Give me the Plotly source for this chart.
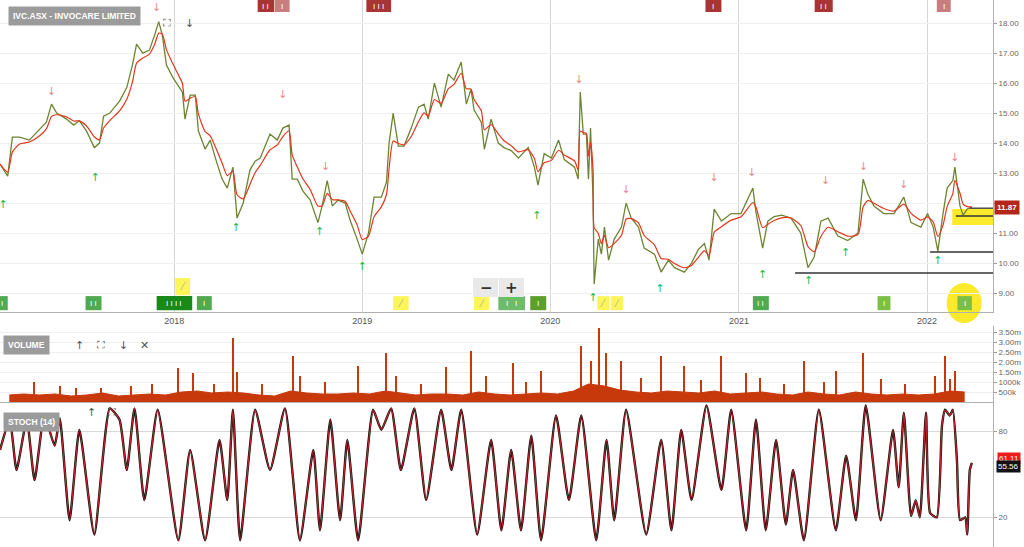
import plotly.graph_objects as go
import pandas as pd

# ---------------- DATA ----------------
price_dates = [
    "2017-01-28","2017-02-12","2017-02-21","2017-03-07","2017-03-26","2017-04-15","2017-04-28","2017-05-08",
    "2017-05-18","2017-06-06","2017-06-20","2017-07-01","2017-07-15","2017-07-30","2017-08-09","2017-08-17",
    "2017-08-29","2017-09-17","2017-10-01","2017-10-12","2017-10-20","2017-11-01","2017-11-14","2017-11-24",
    "2017-12-02","2017-12-09","2017-12-17","2017-12-29",
    "2018-01-09","2018-01-17","2018-01-22","2018-02-01","2018-02-11","2018-02-17","2018-03-02","2018-03-12",
    "2018-03-22","2018-04-04","2018-04-14","2018-04-25","2018-05-03","2018-05-15","2018-05-28","2018-06-07",
    "2018-06-17","2018-07-06","2018-07-20","2018-07-31","2018-08-12","2018-08-18","2018-08-28","2018-09-08",
    "2018-09-22","2018-10-07","2018-10-15","2018-10-25","2018-11-04","2018-11-15","2018-11-29","2018-12-08",
    "2018-12-22",
    "2019-01-01","2019-01-13","2019-01-24","2019-02-07","2019-02-17","2019-02-22","2019-03-02","2019-03-12",
    "2019-03-23","2019-04-06","2019-04-20","2019-05-01","2019-05-09","2019-05-21","2019-06-03","2019-06-17",
    "2019-06-28","2019-07-12","2019-07-22","2019-07-31","2019-08-06","2019-08-20","2019-08-26","2019-09-08",
    "2019-09-22","2019-10-03","2019-10-17","2019-10-31","2019-11-19","2019-12-01","2019-12-08","2019-12-20",
    "2020-01-03","2020-01-17","2020-01-28","2020-02-17","2020-02-24","2020-02-28","2020-03-05","2020-03-11",
    "2020-03-15","2020-03-19","2020-03-24","2020-03-26","2020-04-03","2020-04-09","2020-04-15","2020-04-23",
    "2020-05-04","2020-05-18","2020-05-27","2020-06-06","2020-06-20","2020-07-01","2020-07-21","2020-08-03",
    "2020-08-17","2020-08-29","2020-09-17","2020-10-01","2020-10-14","2020-10-26","2020-11-04","2020-11-14",
    "2020-11-28","2020-12-17",
    "2021-01-05","2021-01-28","2021-02-03","2021-02-16","2021-02-26","2021-03-10","2021-03-25","2021-04-12",
    "2021-05-01","2021-05-15","2021-05-27","2021-06-09","2021-06-23","2021-07-12","2021-07-31","2021-08-20",
    "2021-08-30","2021-09-08","2021-09-20","2021-10-09","2021-10-29","2021-11-17","2021-12-01","2021-12-20",
    "2022-01-02","2022-01-13","2022-01-22","2022-02-01","2022-02-09","2022-02-20","2022-02-24","2022-03-06",
    "2022-03-12","2022-03-20","2022-03-29",
]
price_close = [
    13.3, 12.9, 14.2, 14.2, 14.1, 14.45, 14.7, 15.3,
    15.0, 14.8, 14.6, 14.75, 14.4, 13.85, 14.0, 14.9,
    15.0, 15.4, 15.85, 16.6, 17.3, 17.0, 17.1, 17.6,
    18.05, 17.6, 16.6, 16.2,
    15.9, 15.7, 14.8, 15.6, 15.6, 14.4, 13.8, 14.1,
    13.5, 12.8, 12.5, 13.2, 11.5, 12.0, 13.1, 13.4,
    13.5, 14.3, 14.1, 14.5, 14.6, 12.8, 12.8, 12.4,
    12.1, 11.35, 11.9, 12.75, 11.9, 12.1, 12.0, 11.45,
    10.8,
    10.3, 11.0, 12.2, 12.2, 12.7, 14.0, 15.0, 13.9,
    13.9, 14.5, 15.2, 15.3, 14.8, 16.0, 15.2, 16.3,
    16.1, 16.7, 15.3, 15.8, 15.1, 14.7, 13.8, 14.8,
    14.0, 13.85, 13.75, 13.5, 13.85, 13.2, 12.6, 13.65,
    13.5, 14.1, 13.45, 13.2, 12.8, 15.7, 14.3, 14.3,
    12.8, 14.5, 12.1, 9.3, 10.8, 10.3, 11.2, 10.1,
    10.8, 11.2, 12.0, 11.5, 11.2, 10.5, 10.3, 9.7,
    10.1, 9.85, 9.7, 10.0, 10.45, 10.65, 10.1, 11.8,
    11.4, 11.65,
    11.65, 12.5, 11.7, 10.5, 11.4, 11.55, 11.6, 11.5,
    11.0, 9.85, 10.2, 11.4, 11.5, 10.9, 10.75, 11.0,
    12.8, 12.3, 11.9, 11.65, 11.65, 12.2, 11.35, 11.2,
    11.65, 11.2, 10.4, 11.65, 12.5, 12.75, 13.2, 11.9,
    11.6, 11.8, 11.87,
]

# monthly base volume (millions of shares)
volume_month_start = "2017-02-01"
volume_base = [
    0.35, 0.40, 0.35, 0.40, 0.30, 0.35, 0.45, 0.30, 0.35, 0.40, 0.35,
    0.50, 0.55, 0.45, 0.50, 0.45, 0.35, 0.30, 0.55, 0.45, 0.40, 0.40, 0.45,
    0.40, 0.55, 0.45, 0.35, 0.40, 0.40, 0.35, 0.50, 0.40, 0.35, 0.40, 0.45,
    0.40, 0.55, 0.90, 0.80, 0.60, 0.50, 0.45, 0.55, 0.50, 0.45, 0.55, 0.40,
    0.45, 0.50, 0.40, 0.35, 0.50, 0.40, 0.35, 0.50, 0.40, 0.35, 0.40, 0.35,
    0.40, 0.55, 0.50,
]
volume_spike_dates = [
    "2017-04-05","2017-05-24","2017-06-25","2017-08-13","2017-10-10","2017-11-20","2018-01-09","2018-02-07",
    "2018-03-20","2018-04-25","2018-05-03","2018-06-20","2018-08-20","2018-09-02","2018-10-20","2018-12-24",
    "2019-02-17","2019-03-08","2019-04-25","2019-06-13","2019-07-31","2019-08-29","2019-10-21","2019-11-15",
    "2019-12-14","2020-03-01","2020-03-21","2020-04-05","2020-04-19","2020-05-18","2020-06-25","2020-08-03",
    "2020-09-17","2020-10-20","2020-11-28","2021-01-15","2021-02-12","2021-03-30","2021-05-07","2021-06-15",
    "2021-07-08","2021-08-30","2021-10-03","2021-11-20","2022-01-16","2022-02-05","2022-02-14","2022-02-24",
]
volume_spike_vals = [
    1.0, 0.8, 0.7, 0.7, 0.8, 0.9, 1.7, 1.45,
    0.9, 3.2, 1.5, 0.9, 2.3, 1.3, 1.0, 1.8,
    2.45, 1.3, 0.9, 1.75, 2.55, 1.3, 1.95, 1.0,
    1.55, 2.8, 2.05, 3.7, 2.45, 2.05, 1.2, 2.3,
    1.8, 1.1, 2.3, 1.45, 1.2, 0.9, 2.05, 1.0,
    1.55, 2.45, 1.15, 0.9, 1.3, 2.3, 1.15, 1.55,
]
volume_ticks = [0.5, 1.0, 1.5, 2.0, 2.5, 3.0, 3.5]
volume_tick_labels = ["500k", "1000k", "1.50m", "2.00m", "2.50m", "3.00m", "3.50m"]

stoch_dates = [
    "2017-01-28","2017-02-16","2017-03-01","2017-03-21","2017-04-05","2017-04-24","2017-05-14","2017-05-24",
    "2017-06-12","2017-07-01","2017-07-30","2017-08-29","2017-09-17","2017-10-01","2017-10-16","2017-11-04",
    "2017-11-30","2018-01-09","2018-02-01","2018-03-02","2018-03-30","2018-04-14","2018-04-25","2018-05-09",
    "2018-06-07","2018-07-06","2018-08-04","2018-09-02","2018-09-28","2018-10-11","2018-10-31","2018-11-19",
    "2018-12-03","2018-12-24","2019-01-22","2019-02-07","2019-02-26","2019-03-17","2019-04-12","2019-05-05",
    "2019-06-03","2019-06-23","2019-07-12","2019-08-12","2019-09-08","2019-09-28","2019-10-17","2019-11-05",
    "2019-11-25","2019-12-14","2020-01-12","2020-02-06","2020-03-01","2020-03-30","2020-04-19","2020-05-04",
    "2020-05-27","2020-07-05","2020-08-03","2020-08-23","2020-09-11","2020-10-01","2020-10-30","2020-11-28",
    "2020-12-17","2021-01-15","2021-02-03","2021-02-22","2021-03-14","2021-04-02","2021-04-16","2021-05-07",
    "2021-06-05","2021-07-08","2021-07-28","2021-08-16","2021-09-04","2021-10-03","2021-10-27","2021-11-07",
    "2021-11-17","2021-12-01","2021-12-10","2021-12-18","2021-12-30","2022-01-07","2022-01-20","2022-01-30",
    "2022-02-05","2022-02-14","2022-02-20","2022-02-28","2022-03-06","2022-03-16","2022-03-20","2022-03-25",
    "2022-03-29",
]
stoch_k = [
    67, 88, 53, 88, 46, 91, 70, 89,
    18, 81, 8, 96, 88, 53, 96, 32,
    95, 4, 67, 4, 74, 32, 95, 4,
    95, 53, 96, 4, 67, 11, 88, 18,
    74, 4, 95, 81, 96, 53, 96, 32,
    95, 53, 95, 8, 74, 11, 67, 11,
    77, 4, 91, 32, 91, 4, 74, 18,
    95, 8, 74, 11, 81, 32, 98, 39,
    95, 11, 88, 11, 74, 15, 53, 4,
    95, 11, 63, 18, 98, 18, 81, 41,
    93, 21, 32, 20, 93, 23, 20, 84,
    95, 91, 95, 60, 18, 20, 8, 53,
    58,
]
stoch_last_k = 55.56
stoch_last_d = 61.11
last_price = 11.87

sell_dates = ["2017-05-08","2017-11-28","2018-07-31","2018-10-22","2020-02-26","2020-05-27",
              "2020-11-14","2021-01-26","2021-06-18","2021-08-31","2021-11-17","2022-02-24"]
sell_levels = [15.7, 18.5, 15.6, 13.2, 16.1, 12.43, 12.83, 13.0, 12.73, 13.2, 12.6, 13.5]
buy_dates = ["2017-02-03","2017-08-01","2018-05-01","2018-10-10","2019-01-01","2019-12-06",
             "2020-03-24","2020-08-01","2021-02-16","2021-05-16","2021-07-27","2022-01-22"]
buy_levels = [11.93, 12.83, 11.17, 11.03, 9.87, 11.57, 8.83, 9.13, 9.6, 9.4, 10.33, 10.07]

top_box_start = ["2018-06-12","2018-07-15","2019-01-09","2020-10-28","2021-05-28","2022-01-20"]
top_box_end = ["2018-07-14","2018-08-13","2019-02-26","2020-11-28","2021-07-02","2022-02-16"]
top_box_kind = ["strong","weak","strong","strong","strong","weak"]
top_box_text = ["I I","I","I I I","I","I I","I"]

bottom_box_start = ["2017-01-20","2017-07-13","2017-11-28","2018-02-14","2019-09-22","2019-11-23",
                    "2021-01-28","2021-09-27","2022-03-01"]
bottom_box_end = ["2017-02-12","2017-08-13","2018-02-05","2018-03-15","2019-11-13","2019-12-24",
                  "2021-02-28","2021-10-22","2022-03-29"]
bottom_box_kind = ["mid","mid","dark","mid","light","olive","mid","lime","lime"]
bottom_box_text = ["I","I I","I I I I","I","I   I","I","I I","I","I"]

note_start = ["2018-01-03","2019-03-02","2019-08-06","2020-04-01","2020-04-27"]
note_end = ["2018-02-01","2019-04-01","2019-09-04","2020-04-25","2020-05-21"]
note_row = ["upper","lower","lower","lower","lower"]

support_start = ["2022-03-25","2022-02-26","2022-01-07","2021-04-20"]
support_level = [11.83, 11.57, 10.37, 9.67]

x_start, x_end = "2017-01-28", "2022-05-09"
years = ["2018-01-01","2019-01-01","2020-01-01","2021-01-01","2022-01-01"]

# ---------------- FIGURE ----------------
FONT = "Liberation Sans, Arial, sans-serif"
PX_W, PX_H = 1024, 547
def px_x(p): return p / PX_W
def px_y(p): return 1 - p / PX_H

fig = go.Figure()

# price line (candles approximated) and moving average
fig.add_trace(go.Scatter(x=price_dates, y=price_close, mode="lines",
                         line=dict(color="#6d8433", width=1.3), xaxis="x", yaxis="y", hoverinfo="skip"))
ma = pd.Series(price_close).ewm(span=3).mean()
fig.add_trace(go.Scatter(x=price_dates, y=ma, mode="lines",
                         line=dict(color="#e5361c", width=1.2, shape="spline", smoothing=0.6),
                         xaxis="x", yaxis="y", hoverinfo="skip"))

# signal arrows
fig.add_trace(go.Scatter(x=sell_dates, y=sell_levels, mode="text", text=["↓"] * len(sell_dates),
                         textfont=dict(color="#e58c8c", size=11, family="DejaVu Sans"),
                         xaxis="x", yaxis="y", hoverinfo="skip"))
fig.add_trace(go.Scatter(x=buy_dates, y=buy_levels, mode="text", text=["↑"] * len(buy_dates),
                         textfont=dict(color="#27b845", size=11, family="DejaVu Sans"),
                         xaxis="x", yaxis="y", hoverinfo="skip"))

# volume
vol_dates = pd.date_range(volume_month_start, periods=len(volume_base), freq="MS") + pd.Timedelta(days=14)
fig.add_trace(go.Scatter(x=vol_dates, y=volume_base, mode="lines", fill="tozeroy",
                         line=dict(color="#c7380b", width=1), fillcolor="#c7380b",
                         xaxis="x2", yaxis="y2", hoverinfo="skip"))
fig.add_trace(go.Bar(x=volume_spike_dates, y=volume_spike_vals, width=2.5 * 86400000,
                     marker=dict(color="#c7380b", line=dict(width=0)),
                     xaxis="x2", yaxis="y2", hoverinfo="skip"))

# stochastic
fig.add_trace(go.Scatter(x=stoch_dates, y=stoch_k, mode="lines",
                         line=dict(color="#111111", width=2.4, shape="spline", smoothing=0.5),
                         xaxis="x3", yaxis="y3", hoverinfo="skip"))
fig.add_trace(go.Scatter(x=stoch_dates, y=stoch_k, mode="lines",
                         line=dict(color="#b8262a", width=1.3, shape="spline", smoothing=0.5),
                         xaxis="x3", yaxis="y3", hoverinfo="skip"))

XD = [0, px_x(993)]
tick_font = dict(family=FONT, size=8, color="#666666")
fig.update_layout(
    width=PX_W, height=PX_H, margin=dict(l=0, r=0, t=0, b=0),
    paper_bgcolor="white", plot_bgcolor="white", showlegend=False, bargap=0,
    xaxis=dict(domain=XD, range=[x_start, x_end], anchor="y", type="date",
               tickvals=years, tickformat="%Y", tickfont=dict(family=FONT, size=9, color="#555"),
               showgrid=True, gridcolor="#d6d6d6", gridwidth=1, showline=True, linecolor="#b0b0b0",
               ticks="", zeroline=False, fixedrange=True),
    yaxis=dict(domain=[px_y(312), 1], range=[8.37, 18.77], side="right", anchor="x",
               tickvals=list(range(9, 19)), ticktext=[f"{v:.2f}" for v in range(9, 19)],
               tickfont=tick_font, showgrid=True, gridcolor="#efefef", showline=True,
               linecolor="#b0b0b0", ticks="outside", ticklen=3, tickcolor="#999", zeroline=False),
    xaxis2=dict(domain=XD, range=[x_start, x_end], anchor="y2", type="date", matches="x",
                showticklabels=False, showgrid=False, showline=True, linecolor="#b0b0b0", ticks=""),
    yaxis2=dict(domain=[px_y(402), px_y(326)], range=[0, 3.8], side="right", anchor="x2",
                tickvals=volume_ticks, ticktext=volume_tick_labels, tickfont=tick_font,
                showgrid=True, gridcolor="#efefef", showline=True, linecolor="#b0b0b0",
                ticks="outside", ticklen=3, tickcolor="#999", zeroline=False),
    xaxis3=dict(domain=XD, range=[x_start, x_end], anchor="y3", type="date", matches="x",
                showticklabels=False, showgrid=False, showline=False, ticks=""),
    yaxis3=dict(domain=[0, px_y(402.6)], range=[-0.7, 100], side="right", anchor="x3",
                tickvals=[20, 80], tickfont=tick_font, showgrid=True, gridcolor="#d9d9d9",
                showline=True, linecolor="#b0b0b0", ticks="outside", ticklen=3, tickcolor="#999",
                zeroline=False),
)

shapes = []
annos = []

# highlight blob and rectangle (drawn beneath)
shapes.append(dict(type="rect", xref="x", yref="y", x0="2022-02-19", x1=x_end, y0=11.27, y1=11.8,
                   fillcolor="#fbe92c", line=dict(width=0), layer="below"))
shapes.append(dict(type="circle", xref="x", yref="paper", x0="2022-02-08", x1="2022-04-17",
                   y0=px_y(323), y1=px_y(283), fillcolor="#fbe92c", line=dict(width=0), layer="below"))

# support lines
for s, lv in zip(support_start, support_level):
    shapes.append(dict(type="line", xref="x", yref="y", x0=s, x1=x_end, y0=lv, y1=lv,
                       line=dict(color="#333333", width=1.3)))

top_colors = {"strong": "#a83434", "weak": "#c77e7e"}
for s, e, k, t in zip(top_box_start, top_box_end, top_box_kind, top_box_text):
    shapes.append(dict(type="rect", xref="x", yref="y", x0=s, x1=e, y0=18.37, y1=18.77,
                       fillcolor=top_colors[k], line=dict(width=0)))
    mid = pd.Timestamp(s) + (pd.Timestamp(e) - pd.Timestamp(s)) / 2
    annos.append(dict(x=mid, y=18.57, xref="x", yref="y", text=t, showarrow=False,
                      font=dict(color="white", size=8, family=FONT)))

bottom_colors = {"dark": "#198a1a", "mid": "#4faa50", "light": "#6cbc6c", "olive": "#5e9e2c", "lime": "#7cc043"}
for s, e, k, t in zip(bottom_box_start, bottom_box_end, bottom_box_kind, bottom_box_text):
    shapes.append(dict(type="rect", xref="x", yref="y", x0=s, x1=e, y0=8.43, y1=8.9,
                       fillcolor=bottom_colors[k], line=dict(width=0)))
    mid = pd.Timestamp(s) + (pd.Timestamp(e) - pd.Timestamp(s)) / 2
    annos.append(dict(x=mid, y=8.665, xref="x", yref="y", text=t, showarrow=False,
                      font=dict(color="white", size=8, family=FONT)))

for s, e, r in zip(note_start, note_end, note_row):
    y0, y1 = (8.93, 9.5) if r == "upper" else (8.43, 8.9)
    shapes.append(dict(type="rect", xref="x", yref="y", x0=s, x1=e, y0=y0, y1=y1,
                       fillcolor="#fbf55a", line=dict(width=0)))
    mid = pd.Timestamp(s) + (pd.Timestamp(e) - pd.Timestamp(s)) / 2
    annos.append(dict(x=mid, y=(y0 + y1) / 2, xref="x", yref="y", text="⁄", showarrow=False,
                      font=dict(color="#b9b98a", size=10, family="DejaVu Sans")))

# zoom control box
shapes.append(dict(type="rect", xref="paper", yref="paper", x0=px_x(473), x1=px_x(524),
                   y0=px_y(297), y1=px_y(278), fillcolor="#e9e9e9", line=dict(width=0)))
shapes.append(dict(type="line", xref="paper", yref="paper", x0=px_x(498.5), x1=px_x(498.5),
                   y0=px_y(296), y1=px_y(279), line=dict(color="white", width=1)))
annos.append(dict(x=px_x(486), y=px_y(287.5), xref="paper", yref="paper", text="<b>−</b>",
                  showarrow=False, font=dict(size=15, color="#333", family="DejaVu Sans")))
annos.append(dict(x=px_x(511), y=px_y(287.5), xref="paper", yref="paper", text="<b>+</b>",
                  showarrow=False, font=dict(size=15, color="#333", family="DejaVu Sans")))

# panel titles
def title_box(txt, x, y):
    annos.append(dict(x=px_x(x), y=px_y(y), xref="paper", yref="paper", xanchor="left", yanchor="middle",
                      text=f"<b>{txt}</b>", showarrow=False, bgcolor="#9b9b9b", borderpad=4,
                      font=dict(color="white", size=8.5, family=FONT)))
title_box("IVC.ASX - INVOCARE LIMITED", 8, 15.5)
title_box("VOLUME", 3, 345)
title_box("STOCH (14)", 3, 421.5)

def icon(sym, x, y, size=11):
    annos.append(dict(x=px_x(x), y=px_y(y), xref="paper", yref="paper", text=sym, showarrow=False,
                      font=dict(color="#555", size=size, family="DejaVu Sans")))
icon("⛶", 161, 15); icon("↓", 183, 15)
icon("↑", 73, 345); icon("⛶", 95, 345); icon("↓", 117, 345); icon("✕", 138, 345)
icon("↑", 85, 421); icon("⛶", 106, 421)

# right-side value labels
annos.append(dict(x=px_x(1020), y=last_price, xref="paper", yref="y", xanchor="right", yanchor="middle",
                  text=f"<b>{last_price:.2f}</b>", showarrow=False, bgcolor="#b3271a", borderpad=2,
                  font=dict(color="white", size=8, family=FONT)))
annos.append(dict(x=px_x(1021), y=stoch_last_d, xref="paper", yref="y3", xanchor="right", yanchor="middle",
                  text=f"{stoch_last_d:.2f}", showarrow=False, bgcolor="#ee1b1b", borderpad=1,
                  font=dict(color="white", size=8, family=FONT)))
annos.append(dict(x=px_x(1021), y=stoch_last_k, xref="paper", yref="y3", xanchor="right", yanchor="middle",
                  text=f"{stoch_last_k:.2f}", showarrow=False, bgcolor="#111111", borderpad=1,
                  font=dict(color="white", size=8, family=FONT)))

fig.update_layout(shapes=shapes, annotations=annos)
fig.write_html("out.html", config={"displayModeBar": False},
               post_script="document.body.style.margin='0';document.body.style.overflow='hidden';")
